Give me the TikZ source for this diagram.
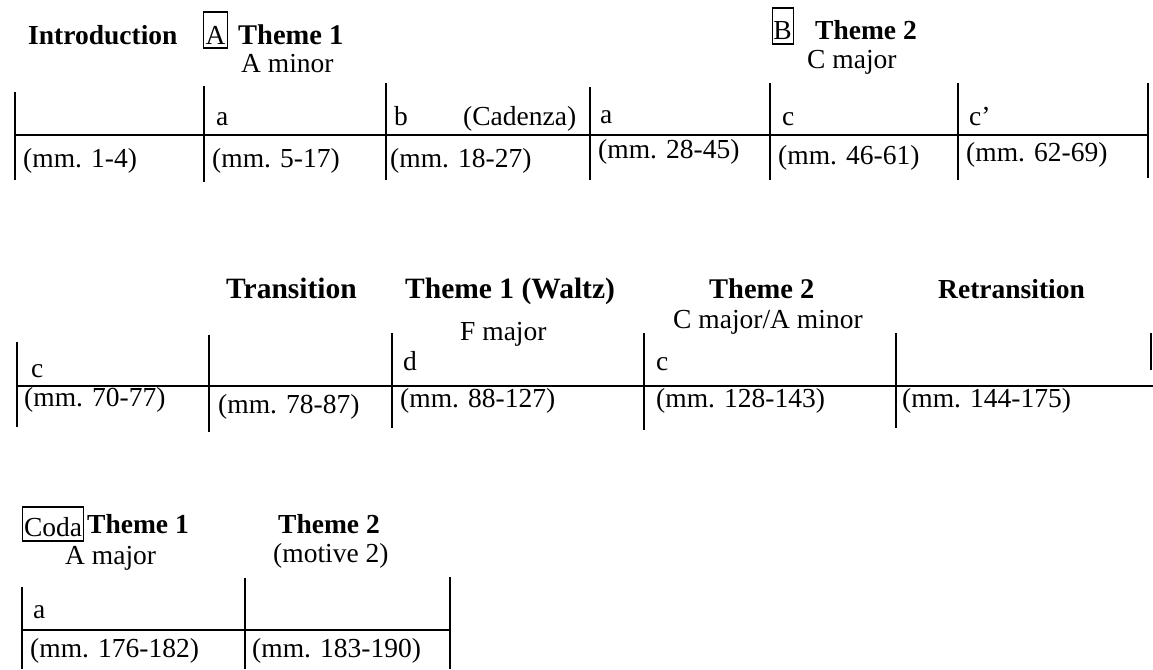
\documentclass[tikz,border=0pt]{standalone}
\usepackage{fontspec}
\setmainfont{Liberation Serif}
\begin{document}
\begin{tikzpicture}[x=1pt,y=-1pt,
  txt/.style={anchor=base west, inner sep=0pt, font=\fontsize{27.5}{30}\selectfont},
  hd/.style={anchor=base west, inner sep=0pt, font=\fontsize{27.5}{30}\selectfont\bfseries},
  hdbig/.style={anchor=base west, inner sep=0pt, font=\fontsize{29.5}{32}\selectfont\bfseries},
  boxed/.style={anchor=base west, inner sep=0pt, draw, line width=1.2pt, font=\fontsize{27.5}{30}\selectfont},
  bar/.style={line width=1.6pt}]
\useasboundingbox (0,0) rectangle (1153,669);

% ---------- Row 1 ----------
\node[hd] (intro) at (28,45) {Introduction};
\node[boxed, minimum width=24pt, text height=33pt, text depth=3pt] (boxA) at (203,45) {A};
\node[hd, font=\fontsize{28.5}{31}\selectfont\bfseries] (th1) at (238,45) {Theme 1};
\node[txt] (amin) at (241,73) {A minor};
\node[boxed, minimum width=21pt, text height=32pt, text depth=4pt] (boxB) at (771.5,40) {B};
\node[hd] (th2) at (815,40) {Theme 2};
\node[txt] (cmaj) at (807,69) {C major};

\draw[bar] (15,135) -- (1148,135);
\draw[bar] (15,92) -- (15,180);
\draw[bar] (204,86) -- (204,182);
\draw[bar] (386,83) -- (386,180);
\draw[bar] (590,87) -- (590,180);
\draw[bar] (770,83) -- (770,180);
\draw[bar] (958,83) -- (958,180);
\draw[bar] (1148,83) -- (1148,178);

\node[txt] (r1a) at (216,125) {a};
\node[txt] (r1b) at (394,125) {b};
\node[txt] (cad) at (463,125) {(Cadenza)};
\node[txt] (r1a2) at (600,123) {a};
\node[txt] (r1c) at (782,125) {c};
\node[txt] (r1cp) at (969,125) {c’};

\node[txt] (m1) at (23,167) {(mm. 1-4)};
\node[txt] (m5) at (212,167) {(mm. 5-17)};
\node[txt] (m18) at (390,167) {(mm. 18-27)};
\node[txt] (m28) at (598,158) {(mm. 28-45)};
\node[txt] (m46) at (778,164) {(mm. 46-61)};
\node[txt] (m62) at (966,161) {(mm. 62-69)};

% ---------- Row 2 ----------
\node[hdbig] (trans) at (226,298) {Transition};
\node[hdbig] (waltz) at (405,298) {Theme 1 (Waltz)};
\node[txt] (fmaj) at (460,340) {F major};
\node[hd, font=\fontsize{28.5}{31}\selectfont\bfseries] (th2b) at (709,298) {Theme 2};
\node[txt] (cmam) at (673,328) {C major/A minor};
\node[hd] (retr) at (938,298) {Retransition};

\draw[bar] (17,386) -- (1153,386);
\draw[bar] (17,342) -- (17,427);
\draw[bar] (209,335) -- (209,432);
\draw[bar] (392,333) -- (392,428);
\draw[bar] (644,333) -- (644,430);
\draw[bar] (896,333) -- (896,428);
\draw[bar] (1151,333) -- (1151,370);

\node[txt] (r2c) at (31,377) {c};
\node[txt] (r2d) at (403,370) {d};
\node[txt] (r2c2) at (656,370) {c};

\node[txt] (m70) at (24,406) {(mm. 70-77)};
\node[txt] (m78) at (218,413) {(mm. 78-87)};
\node[txt] (m88) at (400,407) {(mm. 88-127)};
\node[txt] (m128) at (656,407) {(mm. 128-143)};
\node[txt] (m144) at (902,407) {(mm. 144-175)};

% ---------- Row 3 ----------
\node[boxed, minimum width=61pt, text height=29pt, text depth=5pt] (coda) at (22,536) {Coda};
\node[hd] (th1c) at (87,533) {Theme 1};
\node[txt] (amaj) at (65,564) {A major};
\node[hd] (th2c) at (278,533) {Theme 2};
\node[txt] (mot) at (273,562) {(motive 2)};

\draw[bar] (22,630) -- (450,630);
\draw[bar] (22,587) -- (22,669);
\draw[bar] (245,578) -- (245,669);
\draw[bar] (450,577) -- (450,669);

\node[txt] (r3a) at (33,618) {a};
\node[txt] (m176) at (30,657) {(mm. 176-182)};
\node[txt] (m183) at (252,657) {(mm. 183-190)};
\end{tikzpicture}
\end{document}
